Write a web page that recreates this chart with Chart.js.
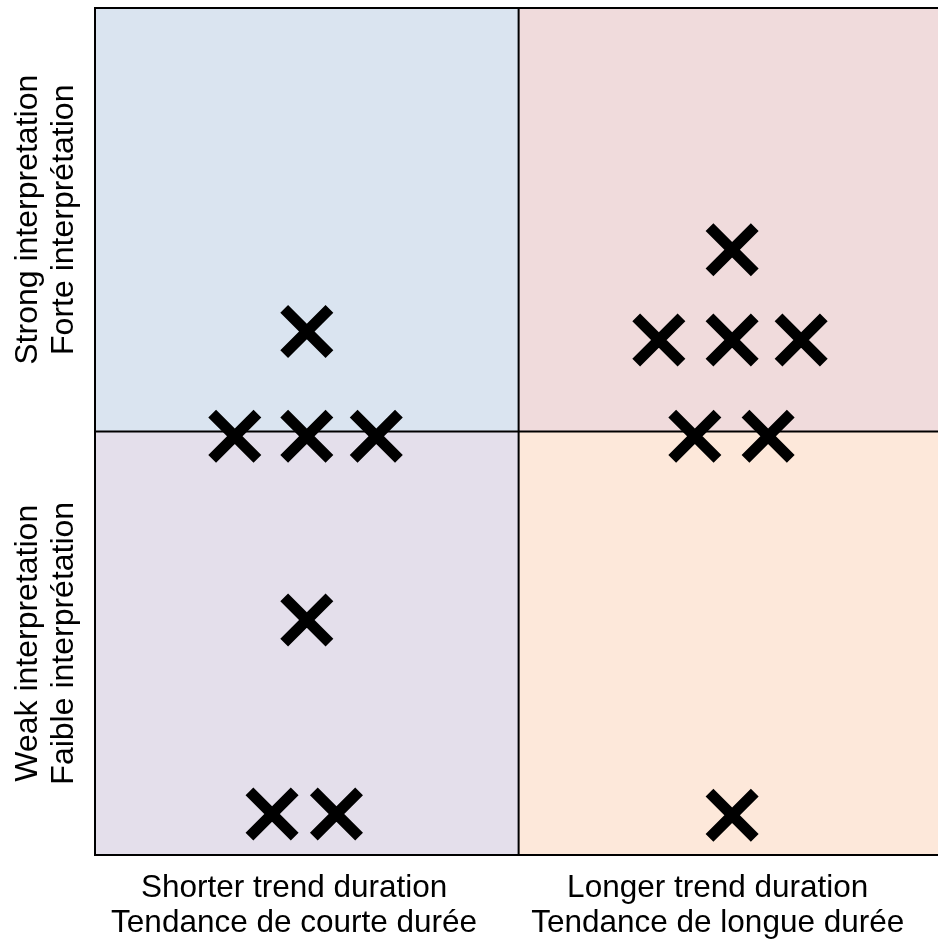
<!DOCTYPE html>
<html>
<head>
<meta charset="utf-8">
<script src="https://cdn.jsdelivr.net/npm/chart.js@4.4.0/dist/chart.umd.min.js"></script>
<style>
    html, body { margin: 0; padding: 0; background: #ffffff; }
    #wrap { width: 938px; height: 942px; }
</style>
</head>
<body>
<div id="wrap"><canvas id="grafica"></canvas></div>
<script>
// categories of the two axes
const xCategories = [
    ["Shorter trend duration", "Tendance de courte durée"],
    ["Longer trend duration", "Tendance de longue durée"]
];
const yCategories = [
    ["Weak interpretation", "Faible interprétation"],
    ["Strong interpretation", "Forte interprétation"]
];
const xTickValues = [0.47, 1.47];
const yTickValues = [0.5, 1.5];

// the crosses (0..1 = shorter/weak, 1..2 = longer/strong)
const pointX = [0.5, 0.33, 0.5, 0.664, 0.5, 0.418, 0.57, 1.504, 1.331, 1.504, 1.667, 1.416, 1.589, 1.504];
const pointY = [1.236, 0.989, 0.989, 0.989, 0.555, 0.097, 0.097, 1.429, 1.216, 1.216, 1.216, 0.989, 0.989, 0.094];

// quadrant colours: bottom-left, bottom-right, top-left, top-right
const quadrantColors = ["#e4dfeb", "#fde8da", "#dae4f0", "#f0dbdc"];

const puntos = pointX.map((x, i) => ({ x: x, y: pointY[i] }));

// fondos de los cuadrantes y lineas
const cuadrantes = {
    id: "cuadrantes",
    beforeDatasetsDraw(chart) {
        const ctx = chart.ctx;
        const xs = chart.scales.x;
        const ys = chart.scales.y;
        const a = chart.chartArea;
        const xm = xs.getPixelForValue(1);
        const ym = ys.getPixelForValue(1);
        ctx.save();
        ctx.fillStyle = quadrantColors[0];
        ctx.fillRect(a.left, ym, xm - a.left, a.bottom - ym);
        ctx.fillStyle = quadrantColors[1];
        ctx.fillRect(xm, ym, a.right - xm, a.bottom - ym);
        ctx.fillStyle = quadrantColors[2];
        ctx.fillRect(a.left, a.top, xm - a.left, ym - a.top);
        ctx.fillStyle = quadrantColors[3];
        ctx.fillRect(xm, a.top, a.right - xm, ym - a.top);

        ctx.strokeStyle = "#000000";
        ctx.lineWidth = 2;
        ctx.beginPath();
        ctx.moveTo(a.right + 5, a.top);
        ctx.lineTo(a.left, a.top);
        ctx.lineTo(a.left, a.bottom);
        ctx.lineTo(a.right + 5, a.bottom);
        ctx.moveTo(xm, a.top);
        ctx.lineTo(xm, a.bottom);
        ctx.moveTo(a.left, ym);
        ctx.lineTo(a.right + 5, ym);
        ctx.stroke();
        ctx.restore();
    },
    afterDraw(chart) {
        // etiquetas verticales del eje y
        const ctx = chart.ctx;
        const ys = chart.scales.y;
        ctx.save();
        ctx.fillStyle = "#000000";
        ctx.font = "32px 'Liberation Sans', Arial, sans-serif";
        ctx.textAlign = "center";
        ctx.textBaseline = "middle";
        yTickValues.forEach((v, i) => {
            const py = ys.getPixelForValue(v);
            yCategories[i].forEach((txt, j) => {
                ctx.save();
                ctx.translate(28 + j * 36, py);
                ctx.rotate(-Math.PI / 2);
                ctx.fillText(txt, 0, 0);
                ctx.restore();
            });
        });
        ctx.restore();
    }
};

new Chart(document.getElementById("grafica"), {
    type: "scatter",
    data: {
        datasets: [
            {
                data: puntos,
                pointStyle: "crossRot",
                pointRadius: 32,
                pointHoverRadius: 32,
                borderWidth: 11,
                pointBorderWidth: 11,
                borderColor: "#000000",
                backgroundColor: "#000000",
                clip: false,
            },
        ],
    },
    options: {
        responsive: true,
        maintainAspectRatio: false,
        animation: false,
        events: [],
        layout: { autoPadding: false, padding: { left: 95, top: 8, right: 0, bottom: 0 } },
        plugins: {
            legend: { display: false },
            tooltip: { enabled: false },
        },
        scales: {
            x: {
                type: "linear",
                min: 0,
                max: 1.99,
                grid: { display: false, drawTicks: false },
                border: { display: false },
                afterBuildTicks: (scale) => {
                    scale.ticks = xTickValues.map((v) => ({ value: v }));
                },
                afterFit: (scale) => {
                    scale.height = 87;
                },
                ticks: {
                    color: "#000000",
                    padding: 16,
                    maxRotation: 0,
                    autoSkip: false,
                    font: { family: "'Liberation Sans', Arial, sans-serif", size: 31.5, lineHeight: 1.1 },
                    callback: (value) => xCategories[xTickValues.indexOf(value)],
                },
            },
            y: {
                type: "linear",
                min: 0,
                max: 2,
                display: false,
            },
        },
    },
    plugins: [cuadrantes],
});
</script>
</body>
</html>
